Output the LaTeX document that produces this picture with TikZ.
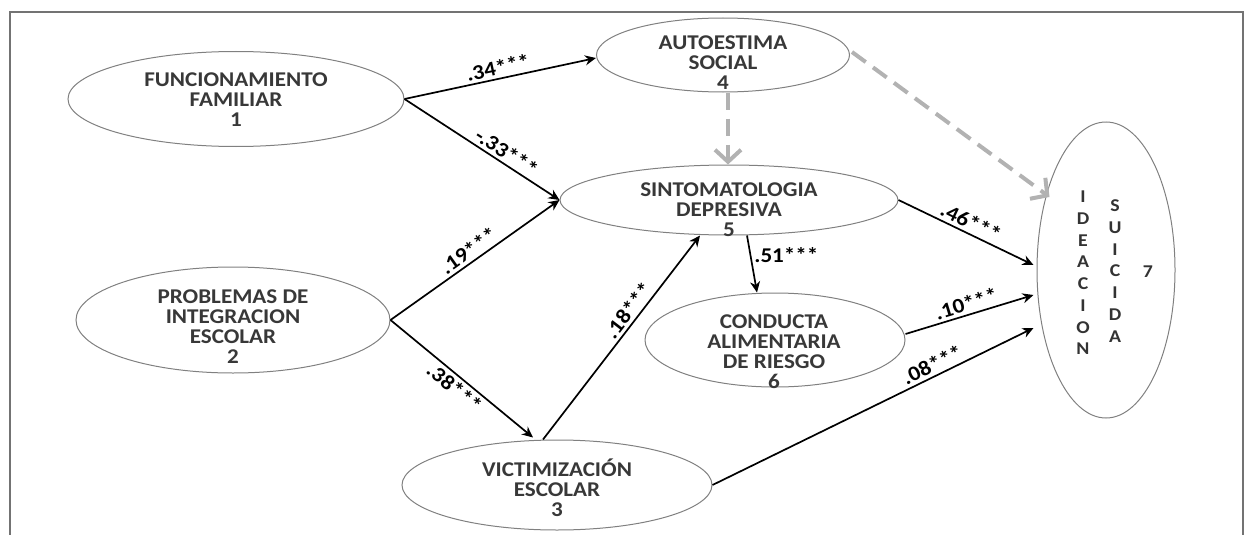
\documentclass[tikz,border=0pt]{standalone}
\usepackage{fontspec}
\setmainfont{Carlito}
\newfontfamily\diagfont[FakeStretch=1.1]{Carlito}
\usepackage{tikz}
\usetikzlibrary{shapes.geometric, arrows.meta, calc}

\begin{document}
\begin{tikzpicture}
[
x=1pt, y=-1pt,
var-a/.style={ellipse, draw=black!50, line width=1pt, inner sep=0pt},
text-a/.style={font=\diagfont\bfseries\fontsize{21}{20}\selectfont, align=center, text=black!78, inner sep=0pt},
text-b/.style={font=\diagfont\bfseries\fontsize{18}{21.7}\selectfont, align=center, text=black!80, inner sep=0pt},
coef-a/.style={font=\diagfont\bfseries\fontsize{21}{20}\selectfont, sloped, above, inner sep=3pt},
coef-b/.style={font=\diagfont\bfseries\fontsize{21}{20}\selectfont, inner sep=3pt},
path-a/.style={line width=1.7pt, -{Stealth[length=11pt,width=10pt]}},
path-b/.style={line width=4pt, black!30, dash pattern=on 17pt off 9pt, -{Straight Barb[length=12pt,width=26pt]}},
frame-a/.style={draw=black!55, line width=1.5pt}
]
\useasboundingbox (0,0) rectangle (1245,535);
\draw [frame-a] (10,535) -- (10,12) -- (1243,12) -- (1243,535);

\node (var-1)   [var-a, minimum width=336pt, minimum height=95pt]  at (236,99)   {};
\node (var-1-t) [text-a]                                           at (236,100)  {FUNCIONAMIENTO\\FAMILIAR\\1};
\node (var-2)   [var-a, minimum width=314pt, minimum height=106pt] at (233,320)  {};
\node (var-2-t) [text-a]                                           at (233,327)  {PROBLEMAS DE\\INTEGRACION\\ESCOLAR\\2};
\node (var-3)   [var-a, minimum width=310pt, minimum height=90pt]  at (557,485)  {};
\node (var-3-t) [text-a]                                           at (557,488)  {VICTIMIZACIÓN\\ESCOLAR\\3};
\node (var-4)   [var-a, minimum width=253pt, minimum height=74pt]  at (723,55)   {};
\node (var-4-t) [text-a]                                           at (723,63)   {AUTOESTIMA\\SOCIAL\\4};
\node (var-5)   [var-a, minimum width=338pt, minimum height=70pt]  at (729,200)  {};
\node (var-5-t) [text-a]                                           at (729,210)  {SINTOMATOLOGIA\\DEPRESIVA\\5};
\node (var-6)   [var-a, minimum width=260pt, minimum height=94pt]  at (775,340)  {};
\node (var-6-t) [text-a]                                           at (774,352)  {CONDUCTA\\ALIMENTARIA\\DE RIESGO\\6};
\node (var-7)   [var-a, minimum width=138pt, minimum height=296pt] at (1106,270) {};
\node (var-7-a) [text-b]                                           at (1083,273) {I\\D\\E\\A\\C\\I\\O\\N};
\node (var-7-b) [text-b]                                           at (1115,271) {S\\U\\I\\C\\I\\D\\A};
\node (var-7-n) [text-b]                                           at (1148,272) {7};

\draw [path-a] (var-1.east) -- node [coef-a] {.34***} ($(var-4.west)+(0,3)$);
\draw [path-a] (var-1.east) -- node [coef-a, pos=0.62] {-.33***} (var-5.west);
\draw [path-a] (var-2.east) -- node [coef-a] {.19***} (var-5.west);
\draw [path-a] (var-2.east) -- node [coef-a, below] {.38***} ($(var-3.north)+(-24,-2)$);
\draw [path-a] ($(var-3.north)+(-14,0)$) -- node [coef-a, pos=0.6] {.18***} ($(var-5.south)+(-29,0)$);
\draw [path-a] ($(var-5.south)+(18,0)$) -- node [coef-b, pos=0.35, right] {.51***} ($(var-6.north)+(-18,0)$);
\draw [path-a] (var-5.east) -- node [coef-a] {.46***} ($(var-7.west)+(-3,-5)$);
\draw [path-a] ($(var-6.east)+(0,-6)$) -- node [coef-a] {.10***} ($(var-7.west)+(-3,25)$);
\draw [path-a] (var-3.east) -- node [coef-a, pos=0.7] {.08***} ($(var-7.west)+(-3,58)$);
\draw [path-b] ($(var-4.south)+(5,0)$) -- ($(var-5.north)+(-1,0)$);
\draw [path-b] ($(var-4.east)+(2,-3)$) -- ($(var-7.west)+(13,-73)$);
\end{tikzpicture}
\end{document}
